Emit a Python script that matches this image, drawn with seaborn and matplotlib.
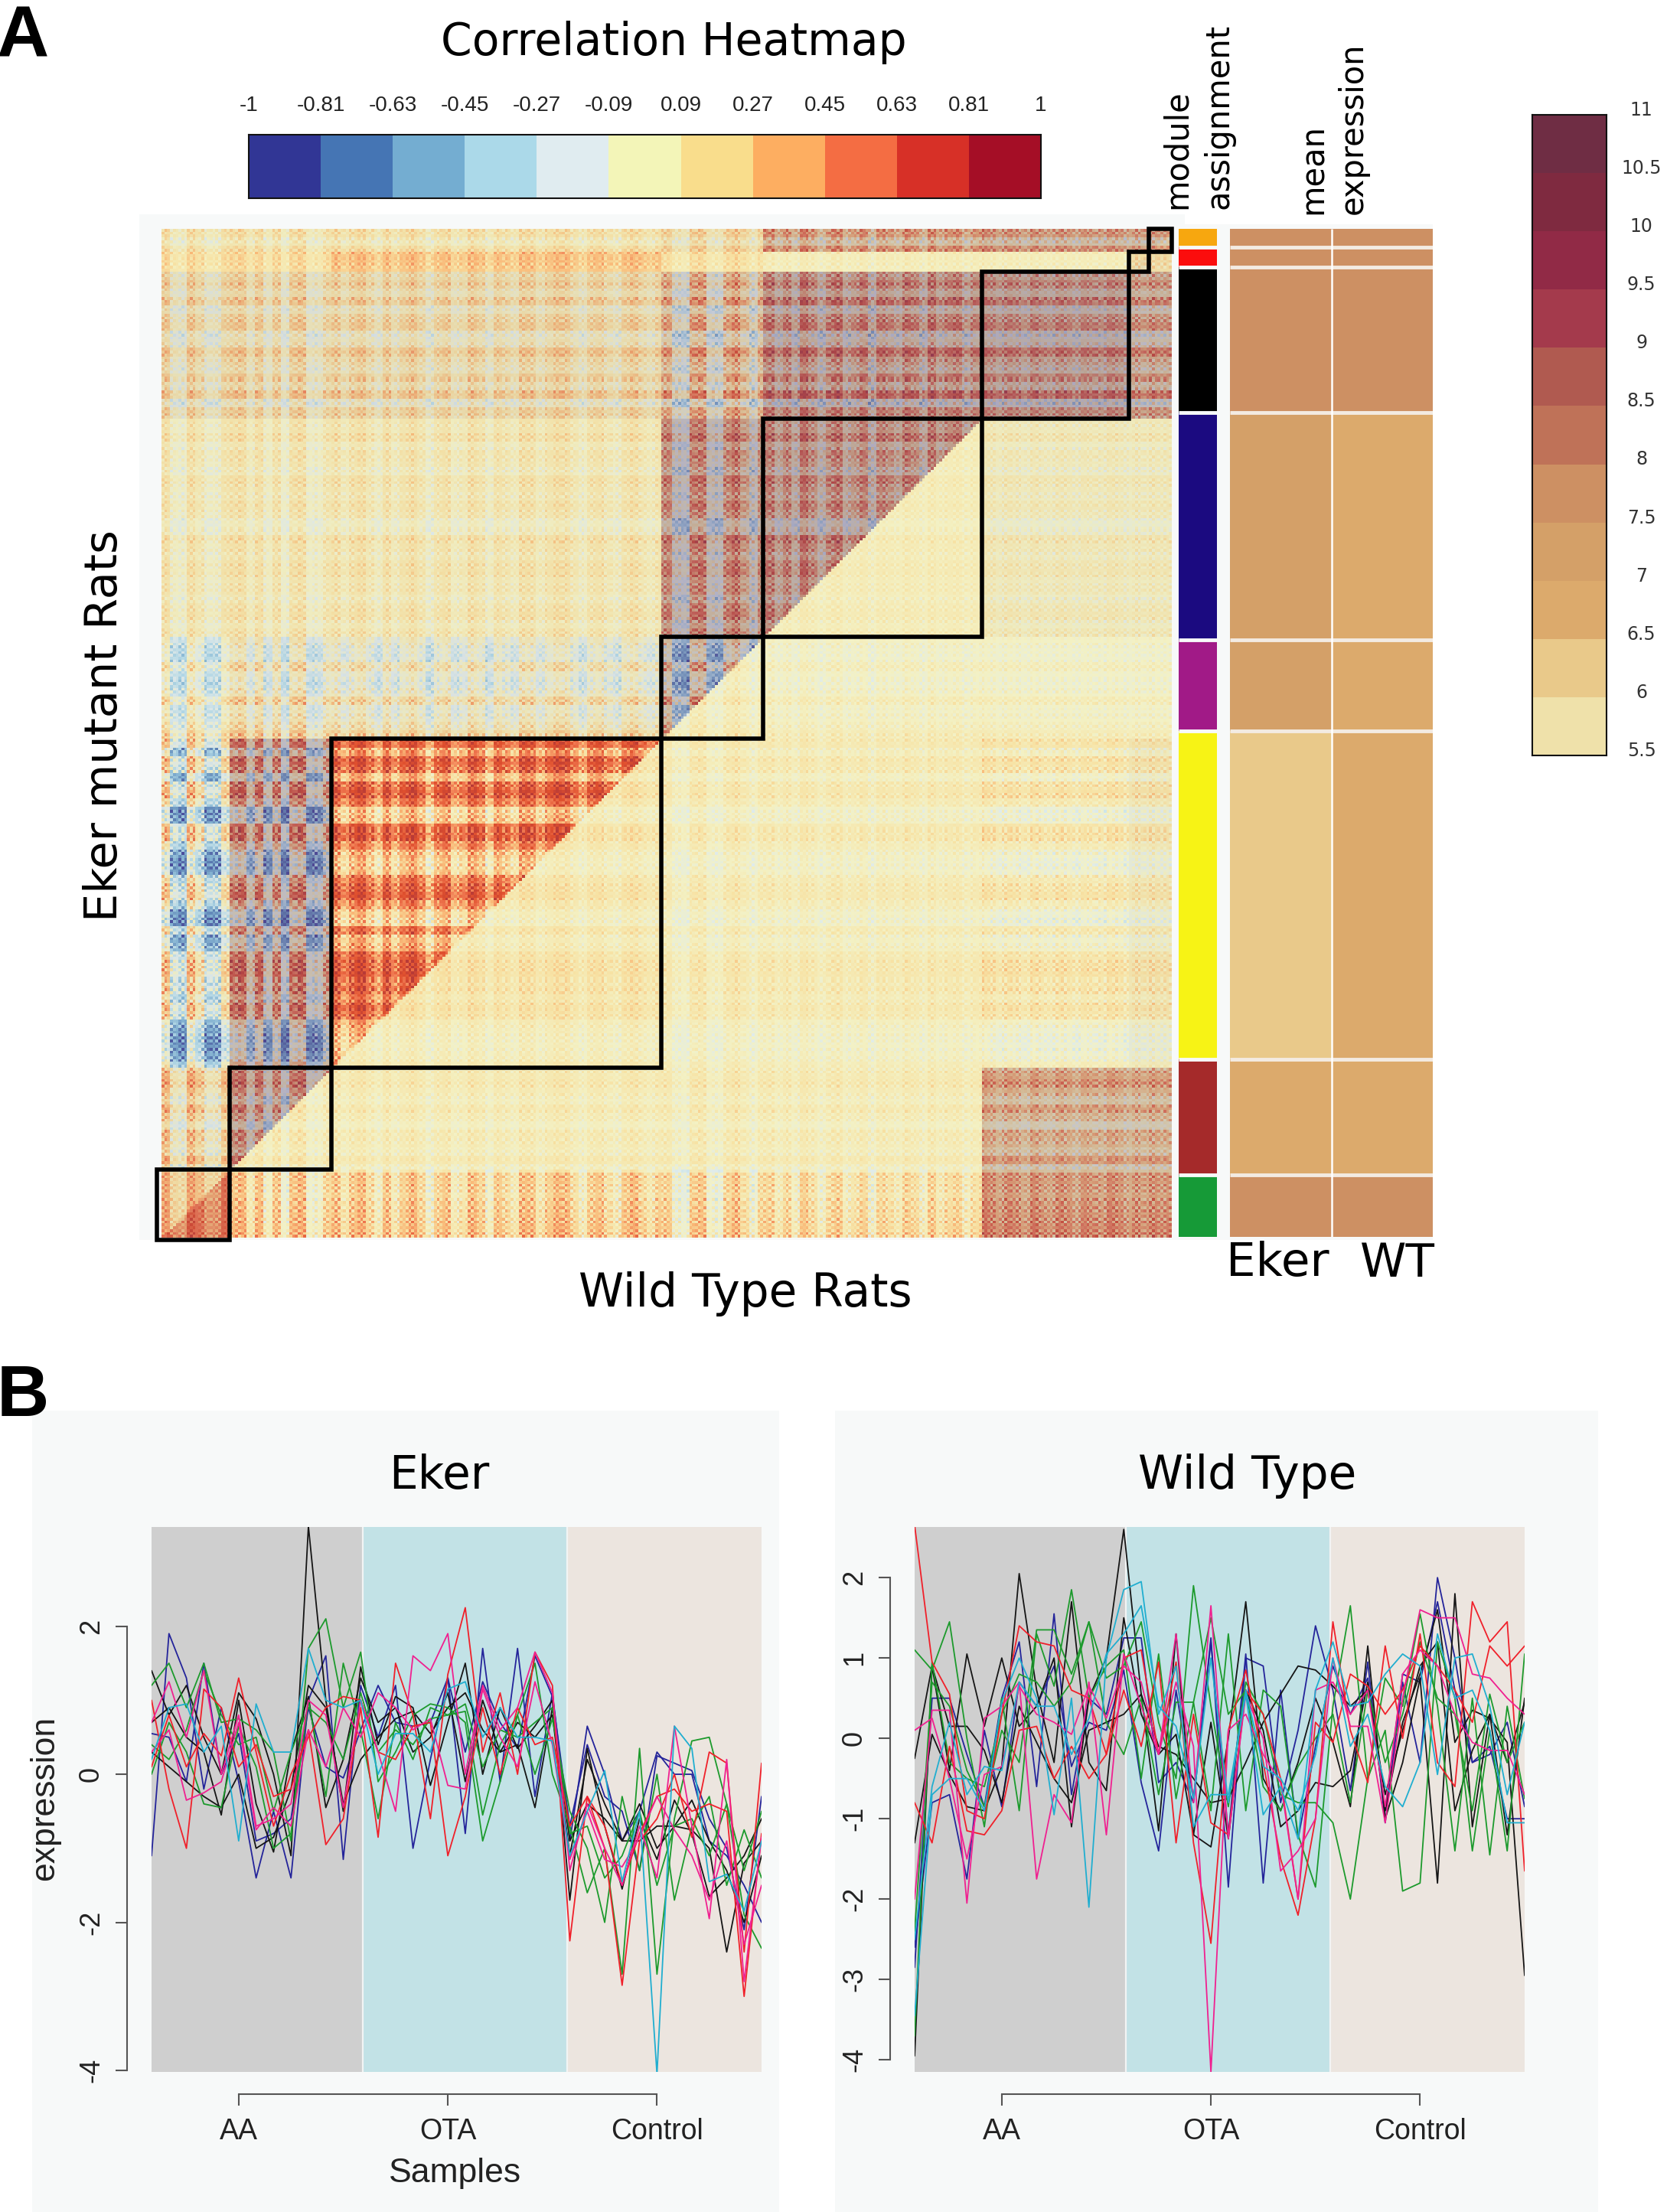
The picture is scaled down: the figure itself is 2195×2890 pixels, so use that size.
import numpy as np
import pandas as pd
import matplotlib
matplotlib.use("Agg")
import matplotlib.pyplot as plt
from matplotlib.colors import LinearSegmentedColormap, ListedColormap
from matplotlib.patches import Rectangle
import seaborn as sns

W, H = 2195, 2890

# correlation colour key
CORR_COLORS = ["#313695", "#4575b4", "#74add1", "#abd9e9", "#e0ecf0", "#f3f5b8",
               "#f9dd8c", "#fdae61", "#f46d43", "#d73027", "#a50e26"]
CORR_LABELS = ["-1", "-0.81", "-0.63", "-0.45", "-0.27", "-0.09", "0.09", "0.27",
               "0.45", "0.63", "0.81", "1"]
# matrix itself looks washed out compared with the key
HEAT_COLORS = ["#4a4f9e", "#5f86b8", "#86b6d4", "#b4dbe8", "#dfebea", "#f3f1c4",
               "#f7e2a4", "#f9b877", "#f07a52", "#e0502e", "#b83a36"]

# expression colour key
EXPR_COLORS = ["#efe1aa", "#e9c98a", "#dcaa6c", "#d4a068", "#cd9063", "#bf7258",
               "#b05a50", "#a43a4c", "#912a46", "#7f2a40", "#6f2d44"]
EXPR_LABELS = ["5.5", "6", "6.5", "7", "7.5", "8", "8.5", "9", "9.5", "10", "10.5", "11"]

# modules, left to right on the heatmap
MODULE_CELLS = [24, 36, 116, 36, 77, 52, 7, 8]

# mean correlation per block, rows top to bottom (orange..green), cols green..orange
BLOCK_BASE = [
    [0.06, 0.06, 0.06, 0.10, 0.18, 0.18, 0.18, 0.18],
    [0.15, 0.15, 0.25, 0.12, 0.02, 0.02, 0.10, 0.10],
    [0.08, 0.08, 0.08, 0.10, 0.20, 0.20, 0.20, 0.20],
    [0.05, 0.05, 0.05, 0.15, 0.20, 0.03, 0.03, 0.03],
    [-0.03, 0.03, 0.00, 0.05, 0.02, 0.02, 0.02, 0.02],
    [-0.20, -0.05, 0.42, 0.04, 0.04, 0.04, 0.04, 0.04],
    [0.12, 0.05, 0.04, 0.04, 0.04, 0.18, 0.18, 0.18],
    [0.30, 0.14, 0.14, 0.10, 0.10, 0.35, 0.35, 0.35],
]
BLOCK_SPREAD = [
    [0.20, 0.20, 0.22, 0.25, 0.55, 0.60, 0.60, 0.60],
    [0.15, 0.15, 0.20, 0.15, 0.12, 0.12, 0.30, 0.30],
    [0.30, 0.30, 0.32, 0.55, 0.75, 0.75, 0.70, 0.70],
    [0.20, 0.20, 0.22, 0.70, 0.75, 0.22, 0.22, 0.22],
    [0.40, 0.40, 0.40, 0.80, 0.14, 0.14, 0.14, 0.14],
    [0.65, 0.85, 0.55, 0.14, 0.14, 0.28, 0.28, 0.28],
    [0.40, 0.70, 0.14, 0.14, 0.14, 0.55, 0.55, 0.55],
    [0.30, 0.45, 0.50, 0.45, 0.45, 0.70, 0.70, 0.70],
]
# greyish purple cast of the strongly correlated blocks
BLOCK_CAST = [
    [0.02, 0.02, 0.02, 0.05, 0.22, 0.25, 0.25, 0.25],
    [0.00, 0.00, 0.00, 0.00, 0.00, 0.00, 0.05, 0.05],
    [0.08, 0.08, 0.08, 0.18, 0.36, 0.38, 0.30, 0.30],
    [0.02, 0.02, 0.02, 0.32, 0.36, 0.03, 0.03, 0.03],
    [0.02, 0.05, 0.05, 0.25, 0.00, 0.00, 0.00, 0.00],
    [0.03, 0.28, 0.00, 0.00, 0.00, 0.00, 0.03, 0.03],
    [0.05, 0.32, 0.00, 0.00, 0.00, 0.22, 0.22, 0.22],
    [0.05, 0.00, 0.00, 0.00, 0.00, 0.22, 0.22, 0.22],
]
# below the diagonal inside each module's own block, green..orange
LOWER_BASE = [0.55, 0.05, 0.08, 0.05, 0.05, 0.20, 0.10, 0.18]
LOWER_SPREAD = [0.30, 0.16, 0.16, 0.15, 0.10, 0.75, 0.30, 0.60]
LOWER_CAST = [0.12, 0.00, 0.00, 0.00, 0.00, 0.38, 0.10, 0.18]

# wide stripes of the plaid, one value for every 3 cells, orange..green rows
ROW_BANDS = [0.6, -0.3, 0.7,
             0.5, 0.3,
             0.1, 0.5, -0.2, 0.7, -0.5, 0.3, 0.6, -0.7, -0.4, 0.8, 0.1, -0.3, 0.5, -0.2, 0.9, -0.8, 0.4,
             0.2, 0.1, 0.6, -0.2, 0.3, 0.1, -0.4, 0.5, 0.2, -0.1, 0.4, 0.1, -0.7, -0.5, 0.6, 0.3, -0.1,
             0.4, 0.5, 0.0, 0.2, -0.3, 0.3, 0.5, -0.2, 0.3,
             -0.3, -0.7, -0.8, 0.2, -0.6, -0.8, -0.4, 0.5, -0.5, -0.3, 0.1, 0.6,
             0.7, -0.2, 0.8, 0.6, -0.4, 0.7, 0.9, 0.3, -0.8, -0.6, 0.7, 0.8, 0.2, -0.5, -0.8, -0.7, 0.3,
             0.6, 0.8, 0.1, -0.7, -0.9, 0.4, -0.5, -0.3, 0.6, 0.8, 0.9, 0.5, 0.7, 0.2, 0.8, 0.6, -0.3,
             -0.6, -0.8, -0.7, -0.5, 0.1,
             0.5, 0.8, 0.3, -0.3, 0.6, 0.1, -0.6, 0.4, 0.2, -0.2, 0.7, -0.5,
             0.1, 0.05, -0.05, 0.1, 0.15, 0.2, 0.3, 0.4]
# same for the columns, green..orange
COL_BANDS = [0.8, -0.6, -0.9, 0.9, 0.2, -0.8, -0.7, 0.5,
             0.7, 0.9, -0.3, 0.8, -0.6, 0.6, -0.9, 0.7, 0.9, -0.8, -0.7, 0.3,
             0.6, -0.2, 0.5, 0.8, 0.1, -0.5, 0.6, -0.3, 0.4, 0.8, 0.2, -0.7, 0.3, 0.6, -0.4, -0.1, 0.7,
             0.3, -0.6, 0.5, 0.1, -0.3, 0.7, 0.6, -0.2, 0.4, 0.8, 0.7, 0.1, -0.5, 0.4, 0.6, 0.0, -0.4,
             0.5, 0.8, 0.2, -0.2, 0.4,
             0.6, -0.7, -0.9, 0.7, 0.8, -0.6, -0.8, 0.5, 0.9, 0.2, -0.7, 0.4,
             0.5, -0.2, 0.4, -0.4, 0.7, 0.2, -0.5, 0.3, 0.6, -0.3, 0.1, 0.5, -0.6, 0.4, 0.2, -0.2, 0.5,
             0.3, -0.4, 0.6, -0.1, 0.3, 0.5, -0.3, 0.2, 0.4,
             0.2, -0.1, 0.25, 0.1, -0.2, 0.3, 0.0, -0.15, 0.25, 0.1, -0.25, 0.2, 0.05, -0.1, 0.3, 0.1, -0.2,
             0.1, -0.1,
             0.2, 0.0, 0.15]
# thin stripes, cell by cell
ROW_FINE = [0.9, -0.7, 0.4, 1.0, -0.9, 0.2, -0.5, 0.8, -1.0, 0.3, 0.7, -0.3, 0.95, -0.8, 0.1,
            0.6, -0.95, 0.5, -0.2, 1.0, -0.6, 0.85, -0.4, 0.2, -1.0, 0.7, 0.35, -0.75, 0.9,
            -0.15, 0.55, -0.9, 1.0, -0.45, 0.25, -0.65, 0.8, -1.0, 0.45, 0.15, -0.85, 0.95,
            -0.3, 0.6, -0.7, 0.1, 1.0, -0.55, 0.75, -0.95, 0.4, -0.2, 0.65]
COL_FINE = [-0.8, 0.95, 0.3, -1.0, 0.6, 0.15, -0.7, 1.0, -0.25, 0.5, -0.9, 0.8, 0.05, -0.55,
            1.0, -0.95, 0.4, 0.7, -0.35, 0.9, -1.0, 0.2, 0.65, -0.6, 0.85, -0.1, -0.85, 1.0,
            0.35, -0.75, 0.55, -0.4, 0.95, -0.9, 0.1, 0.75, -1.0, 0.45, -0.2, 0.8, -0.65,
            1.0, -0.3, 0.25, -0.85, 0.6, -0.5]

# side bars, top to bottom
BAR_COLORS = ["#f7a70f", "#fb0d0d", "#000000", "#1b0a80", "#a11a87", "#f7f315", "#a52a2a", "#169a37"]
BAR_CELLS = [12, 13, 94, 147, 59, 212, 75, 40]
MEAN_EKER = [7.6, 7.6, 7.6, 7.2, 7.2, 6.3, 6.8, 7.6]
MEAN_WT = [7.6, 7.6, 7.6, 6.8, 6.8, 6.8, 6.8, 7.6]

# group bands in sample index
BAND_EDGES = [0, 12.1, 23.85, 35]
BAND_COLORS = ["#cfcfcf", "#c2e2e6", "#ece5df"]
GROUP_TICKS = [5, 17, 29]
GROUP_LABELS = ["AA", "OTA", "Control"]

LINE_COLORS = {"navy": "#24249a", "black": "#151515", "green": "#1c9a2c",
               "red": "#f0202a", "pink": "#f02090", "cyan": "#20aed0"}

EKER_NAVY = [
    [-1.1, 1.9, 1.3, -0.2, 0.9, -0.1, -1.4, -0.5, -1.4, 1.0, 1.6, -1.15, 1.2, 0.5, 1.2, -1.0, 0.2, 1.3, -0.8, 1.7, -0.1, 1.7, -0.3, 1.1, -0.9, 0.65, 0.0, -0.9, -0.5, 0.3, 0.0, 0.0, -0.9, -1.1, -1.5, -2.0],
    [0.55, 0.5, -0.1, 1.5, 0.0, 0.55, -0.9, -0.8, -0.6, 0.9, 0.1, -0.05, 0.6, 1.2, 0.7, 0.65, 0.7, 1.3, 0.3, 1.25, 0.7, 0.35, 1.6, 1.05, -0.7, 0.4, -0.3, -0.5, -1.3, 0.25, 0.15, 0.05, -0.6, -1.0, -2.1, -0.3],
]
EKER_BLACK = [
    [1.4, 0.8, 1.2, 0.5, 0.0, 1.1, 0.75, 0.0, -1.1, 3.35, 1.0, -0.5, 1.45, 0.4, 1.05, 0.9, -0.15, 0.7, 1.5, 0.0, 0.9, 0.35, 0.65, 1.0, -1.7, 0.35, -0.7, -1.55, -0.6, -1.15, -0.35, -0.8, -1.65, -1.4, -1.1, -0.6],
    [0.3, 0.1, -0.1, -0.3, -0.45, 0.0, -1.0, -0.85, -0.2, 1.2, 0.9, -0.4, 0.2, 0.5, 0.75, 0.85, 0.55, 0.9, 1.1, 0.6, 0.3, 0.4, -0.45, 0.9, -0.9, -0.4, -0.6, -0.9, -0.9, -0.7, -0.7, -0.75, -1.0, -2.4, -1.2, -0.9],
    [0.7, 0.9, 0.5, 0.3, -0.55, 1.0, -0.4, -1.05, 0.3, 1.05, -0.45, 0.2, 1.3, 0.7, 0.9, 0.3, 0.5, 1.1, -0.1, 1.0, 0.3, 0.7, 0.5, 0.8, -1.1, 0.2, -0.4, -0.9, -0.4, -1.0, -0.7, -0.35, -0.9, -1.3, -2.0, -1.1],
]
EKER_GREEN = [
    [1.2, 1.5, 0.9, 1.5, 0.7, 0.75, 0.6, 0.3, -0.9, 1.7, 2.1, 0.9, 1.65, -0.1, 0.3, 0.8, 0.95, 0.9, 0.7, -0.9, -0.1, 0.8, 1.5, 0.0, -0.7, -1.6, -1.0, -2.7, 0.35, -2.7, -0.6, 0.45, 0.5, -0.4, -1.9, -2.35],
    [0.0, 0.7, 0.3, -0.4, -0.45, 0.65, 0.1, -1.0, -0.8, 1.0, -0.3, 1.5, 0.6, -0.6, 0.7, 0.2, 0.9, 0.8, 0.85, -0.55, 0.4, 0.8, 0.0, 0.75, -0.5, -1.0, -2.0, -0.3, -1.3, 0.0, -1.7, -0.7, -0.3, -1.5, -0.75, -1.4],
    [0.4, 0.2, 0.6, 1.4, 0.8, 0.4, 0.5, -0.5, 0.3, 0.9, 0.7, 0.2, 1.1, 0.3, 0.6, 0.4, 0.75, 0.8, 0.95, 0.1, 0.6, 0.5, 0.7, 0.9, -0.8, -0.7, -1.4, -1.1, -0.5, -1.5, -0.7, -0.6, -1.1, -0.4, -1.3, -0.5],
]
EKER_RED = [
    [1.0, -0.2, -1.0, 1.15, 0.9, 0.1, 0.4, -0.3, -0.2, 0.6, -0.95, -0.6, 0.9, -0.85, 1.5, 0.8, -0.6, 1.35, 2.25, 0.3, 1.1, 0.0, 1.65, 1.2, -2.25, -0.3, -1.0, -2.85, -0.9, -0.6, 0.0, -0.85, 0.3, 0.15, -2.4, 0.15],
    [0.1, 0.8, 0.1, 0.55, 0.25, 1.3, 0.3, -0.7, 0.0, 0.5, 0.9, 1.05, 1.0, 0.3, 0.2, 0.65, 0.7, -1.1, -0.3, 0.9, 0.0, 0.9, 0.4, 0.5, -0.7, -0.3, -0.7, -1.5, -0.8, -0.3, -0.2, -0.5, -0.4, -0.5, -3.0, -0.8],
]
EKER_PINK = [
    [0.7, 1.25, 0.5, 1.4, 0.0, 0.8, -0.7, -0.6, -0.4, 1.0, 0.8, -0.45, 1.0, 0.3, -0.5, 1.6, 1.4, 1.9, 0.0, 1.2, 0.6, 0.9, 1.65, 1.1, -1.3, -0.4, -1.0, -1.5, -0.7, -1.4, 0.65, -0.7, -1.95, 0.2, -2.8, -0.85],
    [0.3, 0.6, -0.35, -0.25, -0.1, 0.7, -0.75, -0.45, -0.7, 0.6, 0.1, 0.9, 0.5, 1.1, 0.9, 0.6, 0.75, -0.15, -0.2, 1.15, 0.5, 0.1, 1.25, 0.4, -1.15, -0.5, -1.15, -1.25, -0.85, -0.3, -0.75, -1.1, -1.7, -0.9, -2.3, -1.5],
]
EKER_CYAN = [
    [0.2, 0.9, 0.95, 0.3, 0.65, -0.9, 0.95, 0.3, 0.3, 1.7, 1.0, 0.9, 1.0, 0.0, 0.55, 0.55, 0.3, 1.15, 1.25, 0.5, 0.9, 0.5, 0.5, 0.45, -1.1, -0.5, 0.05, -1.45, -0.5, -4.05, 0.65, 0.35, -1.45, -1.35, -1.85, -0.9],
]

WT_NAVY = [
    [-2.85, 0.5, 0.5, -0.2, -0.85, 0.5, 1.2, -0.6, 1.55, -0.7, 0.5, 0.3, 1.25, 1.25, -0.55, -0.3, -0.8, 1.25, -1.85, 1.0, 0.9, -0.8, 0.1, 1.4, 0.6, -0.65, 0.95, -1.05, 0.7, -0.3, 2.0, 1.0, -0.3, -0.1, -1.0, -1.0],
    [-2.6, -0.8, -0.7, -1.75, 0.1, -0.85, 0.7, 0.4, 0.9, -0.35, 0.2, 0.1, 0.85, -0.55, -1.4, 0.6, -0.75, 1.2, -1.2, 1.05, -1.8, 0.6, -1.25, -0.1, 0.9, 0.3, 0.75, -0.9, 0.8, 0.7, 1.7, 0.6, -0.3, -0.2, 0.2, -0.85],
]
WT_BLACK = [
    [-3.95, 0.9, -0.4, 1.05, 0.15, 1.0, 0.15, 0.4, 1.0, -1.1, 0.5, 1.0, 2.6, 0.55, -1.15, 1.3, -1.2, -1.35, 0.0, 1.7, -0.5, -0.9, -0.3, 0.5, -0.05, -0.85, 1.15, -1.0, -0.3, 0.75, -1.8, 1.8, -1.1, 0.3, -1.2, 0.5],
    [-1.3, 0.05, -0.45, -0.85, -0.9, -0.35, 2.05, 0.6, -0.3, 1.7, -0.3, -0.65, 1.5, 0.3, -0.2, 0.05, -1.2, 0.2, -1.25, 0.6, 0.1, -1.1, -0.9, -0.55, -0.6, -0.4, 0.7, -0.9, 0.2, 0.8, 1.6, -0.05, 0.35, 0.25, -0.05, -2.95],
    [-0.25, 0.9, 0.15, 0.15, -0.15, -0.8, 0.4, -0.05, -0.5, -0.8, 0.1, 0.2, 0.3, 0.55, -0.1, -0.2, -0.5, -0.8, -0.75, -0.3, 0.2, 0.55, 0.9, 0.85, 0.65, 0.4, 0.6, -0.7, 0.1, 0.9, 1.2, -0.9, -0.15, 0.3, -0.3, 0.45],
]
WT_GREEN = [
    [1.1, 0.85, 1.45, 0.0, -1.1, 0.5, -0.9, 1.3, 0.65, 1.85, 0.5, 0.9, 1.1, -0.5, 1.05, -0.75, 0.45, -0.9, 1.3, -0.9, 0.6, 0.4, -1.2, -1.85, 0.4, 1.65, -0.5, 0.1, -1.9, -1.8, 1.2, 0.5, -1.4, 0.1, -1.4, 1.05],
    [-3.7, 0.95, -0.3, -0.5, -0.6, 0.3, 0.8, 0.7, 0.4, 0.7, 1.45, 0.75, 0.9, 1.45, 0.2, -0.5, 1.9, 0.4, -0.85, 0.7, 0.3, -0.7, -0.8, -0.8, -1.05, -2.0, -0.5, 0.75, 0.4, 1.55, 0.4, -1.4, 0.5, -1.45, 0.4, -0.75],
    [-2.4, 0.7, 0.4, -0.4, -0.85, 0.1, -0.3, 1.35, 1.35, 0.8, 1.45, 0.2, -0.2, 0.5, -0.7, 0.45, 0.45, 1.5, 0.3, 0.6, -0.6, -0.9, -0.35, 0.0, 0.3, -0.8, 0.6, -0.3, 0.3, 1.2, 0.5, 0.3, -0.9, 0.55, -0.3, 0.2],
]
WT_RED = [
    [2.65, 0.95, 0.55, -0.9, -1.0, 0.3, 1.4, 1.2, 1.15, 0.6, 0.5, -0.2, 1.0, 1.1, -0.2, 0.95, -1.3, -2.55, 0.1, 0.85, -0.3, -1.5, -2.2, -1.0, 1.45, 0.1, -0.55, 1.15, 0.0, 1.3, -0.3, -0.6, 1.7, 1.2, 1.45, -1.65],
    [-0.8, -1.3, -0.1, -1.15, -1.2, -0.9, 0.1, 0.15, -0.5, -0.1, -0.5, -0.2, 0.6, -0.1, 0.95, -1.3, 0.3, -1.05, -1.2, 0.6, 0.3, -0.5, -2.0, 0.2, -0.05, 0.8, 0.65, 0.3, 0.6, 1.15, 0.9, 0.6, 0.2, 1.15, 0.9, 1.15],
]
WT_PINK = [
    [-2.0, 0.35, 0.35, -2.05, 0.25, 0.4, 0.7, -1.75, -0.7, -1.05, 0.7, -1.2, 1.05, 0.4, -0.2, 1.3, -0.8, 1.65, -1.25, 0.55, 0.0, -1.65, -1.4, -1.0, 1.0, 0.15, 0.15, -1.05, 0.5, 1.6, 1.5, 1.5, 0.8, 0.75, 0.5, 0.3],
    [0.1, 0.25, -0.5, -1.5, -0.45, -0.35, 0.65, 0.3, 0.2, 0.05, 0.65, 0.25, 0.9, 0.7, -0.2, 0.7, -0.1, -4.15, 0.1, 0.3, -0.2, -0.55, -2.0, 0.6, 0.7, 0.3, 0.6, -0.85, 0.8, 1.1, 0.9, 0.3, -0.05, -0.15, -0.15, -0.7],
]
WT_CYAN = [
    [-3.45, -0.7, -0.5, -0.5, -0.9, 0.45, 1.0, 0.5, -0.95, 0.5, -2.1, 1.0, 1.85, 1.95, 0.3, 0.9, -1.1, -0.7, -0.7, 0.55, -0.95, -0.6, -1.25, 0.6, 1.2, 0.4, 0.45, 0.8, 1.05, 0.9, -0.45, 1.0, 1.05, 0.4, -0.7, 0.2],
    [-2.5, -0.6, 0.2, -0.7, -0.35, -0.4, 0.7, 0.4, 0.4, -0.2, 0.25, 1.05, 1.3, 1.65, 0.4, 0.15, -0.75, 1.0, -0.8, 0.6, -0.35, -0.5, -0.9, -0.2, 1.0, -0.1, 0.3, -0.6, -0.85, -0.3, 1.3, 0.5, 0.6, 0.1, -1.05, -1.05],
]

PANEL_BG = "#f7f9f9"

sns.set_style("white")
plt.rcParams["font.family"] = ["DejaVu Sans"]
R_FONT = ["Liberation Sans", "DejaVu Sans"]


def box(x0, y0, x1, y1):
    # pixel box from the top-left corner -> figure fraction
    return [x0 / W, 1 - y1 / H, (x1 - x0) / W, (y1 - y0) / H]


def px_text(x, y, s, **kw):
    kw.setdefault("ha", "center")
    kw.setdefault("va", "center")
    kw.setdefault("color", "black")
    return fig.text(x / W, 1 - y / H, s, **kw)


def panel(x0, y0, x1, y1):
    fig.patches.append(Rectangle((x0 / W, 1 - y1 / H), (x1 - x0) / W, (y1 - y0) / H,
                                 transform=fig.transFigure, color=PANEL_BG, lw=0, zorder=-5))


def own_split(upper, lower):
    # block table -> cell table, lower right half of each own block replaced
    table = np.array(upper)[(7 - row_mod)[:, None], col_mod[None, :]]
    return np.where(below, np.array(lower)[col_mod][None, :], table)


fig = plt.figure(figsize=(W / 100, H / 100), dpi=100, facecolor="white")

panel(182, 280, 1548, 1620)
panel(1531, 293, 1872, 1620)
panel(42, 1843, 1018, 2890)
panel(1091, 1843, 2088, 2890)

# ---- correlation matrix
col_mod = np.repeat(np.arange(8), MODULE_CELLS)
row_mod = col_mod[::-1]
n = len(col_mod)
ii, jj = np.indices((n, n))
below = (row_mod[:, None] == col_mod[None, :]) & (ii + jj > n - 1)

base = own_split(BLOCK_BASE, LOWER_BASE)
spread = own_split(BLOCK_SPREAD, LOWER_SPREAD)
cast = own_split(BLOCK_CAST, LOWER_CAST)

row_wide = np.repeat(ROW_BANDS, 3)[:n]
col_wide = np.repeat(COL_BANDS, 3)[:n]
row_thin = np.resize(ROW_FINE, n)
col_thin = np.resize(COL_FINE, n)
corr = (base
        + spread * (0.55 * row_wide[:, None] + 0.55 * col_wide[None, :] + 0.35 * row_thin[:, None] * col_thin[None, :])
        + 0.08 * row_thin[:, None] * col_thin[None, :])

ax_heat = fig.add_axes(box(211, 299, 1531, 1617))
sns.heatmap(pd.DataFrame(corr), ax=ax_heat, cmap=LinearSegmentedColormap.from_list("heat", HEAT_COLORS),
            vmin=-1, vmax=1, cbar=False, xticklabels=False, yticklabels=False)
# second layer for the cast
plum = LinearSegmentedColormap.from_list("cast", [(0.35, 0.23, 0.47, 0.0), (0.35, 0.23, 0.47, 1.0)])
sns.heatmap(pd.DataFrame(cast), ax=ax_heat, cmap=plum, vmin=0, vmax=1, cbar=False,
            xticklabels=False, yticklabels=False)
ax_heat.set_xlim(0, n)
ax_heat.set_ylim(n, 0)

edges = np.concatenate([[0], np.cumsum(MODULE_CELLS)])
for a in range(8):
    # green box sticks out of the matrix a little
    pad = 1.5 if a == 0 else 0
    ax_heat.add_patch(Rectangle((edges[a] - pad, n - edges[a + 1]), MODULE_CELLS[a] + pad, MODULE_CELLS[a] + pad / 2,
                                fill=False, ec="black", lw=4, clip_on=False, zorder=5))

px_text(137, 948, "Eker mutant Rats", rotation=90, fontsize=42.5)
px_text(974, 1690, "Wild Type Rats", fontsize=43)

# ---- correlation key on top
ax_key = fig.add_axes(box(325, 176, 1360, 259))
sns.heatmap(pd.DataFrame([np.arange(11)]), ax=ax_key, cmap=ListedColormap(CORR_COLORS), vmin=-0.5, vmax=10.5,
            cbar=False, xticklabels=False, yticklabels=False)
ax_key.set_xticks(np.arange(12))
ax_key.set_xticklabels(CORR_LABELS, family=R_FONT, fontsize=20, color="#222222")
ax_key.xaxis.tick_top()
ax_key.tick_params(axis="x", length=0, pad=18)
for s in ax_key.spines.values():
    s.set_visible(True)
    s.set_color("#111111")
    s.set_linewidth(1.5)

px_text(880, 55, "Correlation Heatmap", fontsize=42)

# ---- module bar and mean expression
bar_rows = np.repeat(np.arange(8), BAR_CELLS)
bar_edges = np.cumsum(BAR_CELLS)[:-1]
ax_bar = fig.add_axes(box(1540, 299, 1590, 1616))
sns.heatmap(pd.DataFrame(bar_rows), ax=ax_bar, cmap=ListedColormap(BAR_COLORS), vmin=-0.5, vmax=7.5,
            cbar=False, xticklabels=False, yticklabels=False)
ax_bar.hlines(bar_edges, 0, 1, color=PANEL_BG, lw=3.5)

expr_table = pd.DataFrame({"Eker": np.array(MEAN_EKER)[bar_rows], "WT": np.array(MEAN_WT)[bar_rows]})
ax_mean = fig.add_axes(box(1607, 299, 1872, 1616))
sns.heatmap(expr_table, ax=ax_mean, cmap=ListedColormap(EXPR_COLORS), vmin=5.5, vmax=11,
            cbar=False, xticklabels=False, yticklabels=False)
ax_mean.hlines(bar_edges, 0, 2, color="#f3ebe2", lw=3.5)
ax_mean.vlines(1, 0, len(bar_rows), color="white", lw=1.8)

px_text(1669, 1651, "Eker", fontsize=44)
px_text(1826, 1651, "WT", fontsize=44)
px_text(1538, 273, "module", rotation=90, fontsize=30, va="bottom")
px_text(1592, 273, "assignment", rotation=90, fontsize=30, va="bottom")
px_text(1716, 280, "mean", rotation=90, fontsize=30, va="bottom")
px_text(1768, 280, "expression", rotation=90, fontsize=30, va="bottom")

# ---- expression key
ax_ek = fig.add_axes(box(2002, 150, 2099, 987))
sns.heatmap(pd.DataFrame(np.arange(11)[::-1]), ax=ax_ek, cmap=ListedColormap(EXPR_COLORS), vmin=-0.5, vmax=10.5,
            cbar=False, xticklabels=False, yticklabels=False)
for s in ax_ek.spines.values():
    s.set_visible(True)
    s.set_color("#111111")
    s.set_linewidth(1.5)
for k, lab in enumerate(EXPR_LABELS):
    ax_ek.text(1.47, 11 - k - 0.08, lab, fontsize=17, color="#333333", ha="center", va="center",
               transform=ax_ek.get_yaxis_transform())

# ---- panel letters
px_text(30, 50, "A", fontsize=68, family=["Liberation Sans"], weight="bold")
px_text(30, 1826, "B", fontsize=68, family=["Liberation Sans"], weight="bold")


# ---- profile panels
def long_table(groups):
    frames = []
    for name, lines in groups.items():
        for k, vals in enumerate(lines):
            frames.append(pd.DataFrame({"sample": np.arange(len(vals)), "expression": vals,
                                        "colour": name, "line": f"{name}{k}"}))
    return pd.concat(frames, ignore_index=True)


def profile(ax, table, ylim, yticks):
    ax.set_facecolor("none")
    ax.set_xlim(0, 35)
    ax.set_ylim(*ylim)
    for k in range(3):
        ax.axvspan(BAND_EDGES[k], BAND_EDGES[k + 1], color=BAND_COLORS[k], lw=0, zorder=0)
    sns.lineplot(data=table, x="sample", y="expression", hue="colour", units="line", estimator=None,
                 palette=LINE_COLORS, lw=1.3, legend=False, ax=ax, zorder=3)
    for v in BAND_EDGES[1:3]:
        ax.axvline(v, color="#f2f4f4", lw=1.6, zorder=1)
    ax.set_xlabel("")
    ax.set_ylabel("")
    sns.despine(ax=ax, top=True, right=True)
    ax.spines["left"].set_position(("outward", 23))
    ax.spines["bottom"].set_position(("outward", 21))
    ax.spines["left"].set_bounds(min(yticks), max(yticks))
    ax.spines["bottom"].set_bounds(GROUP_TICKS[0], GROUP_TICKS[-1])
    for s in ("left", "bottom"):
        ax.spines[s].set_color("#555555")
        ax.spines[s].set_linewidth(1.5)
    ax.set_yticks(yticks)
    ax.set_yticklabels([str(v) for v in yticks], rotation=90, va="center", family=R_FONT, fontsize=26, color="#222222")
    ax.set_xticks(GROUP_TICKS)
    ax.set_xticklabels(GROUP_LABELS, family=R_FONT, fontsize=27, color="#222222")
    ax.tick_params(axis="both", direction="out", length=11, width=1.5, color="#555555", left=True, bottom=True)
    ax.tick_params(axis="x", pad=11)
    ax.tick_params(axis="y", pad=10)


eker_table = long_table({"navy": EKER_NAVY, "black": EKER_BLACK, "green": EKER_GREEN,
                         "red": EKER_RED, "pink": EKER_PINK, "cyan": EKER_CYAN})
wt_table = long_table({"navy": WT_NAVY, "black": WT_BLACK, "green": WT_GREEN,
                       "red": WT_RED, "pink": WT_PINK, "cyan": WT_CYAN})

ax_eker = fig.add_axes(box(198, 1995, 995, 2707))
profile(ax_eker, eker_table, (-4.02, 3.34), [-4, -2, 0, 2])
ax_wt = fig.add_axes(box(1195, 1995, 1992, 2707))
profile(ax_wt, wt_table, (-4.15, 2.63), [-4, -3, -2, -1, 0, 1, 2])

px_text(574, 1928, "Eker", fontsize=43)
px_text(1630, 1928, "Wild Type", fontsize=43)
px_text(595, 2840, "Samples", family=R_FONT, fontsize=32, color="#222222")
px_text(59, 2349, "expression", rotation=90, family=R_FONT, fontsize=32, color="#222222")

fig.savefig("out.png", dpi=100)
